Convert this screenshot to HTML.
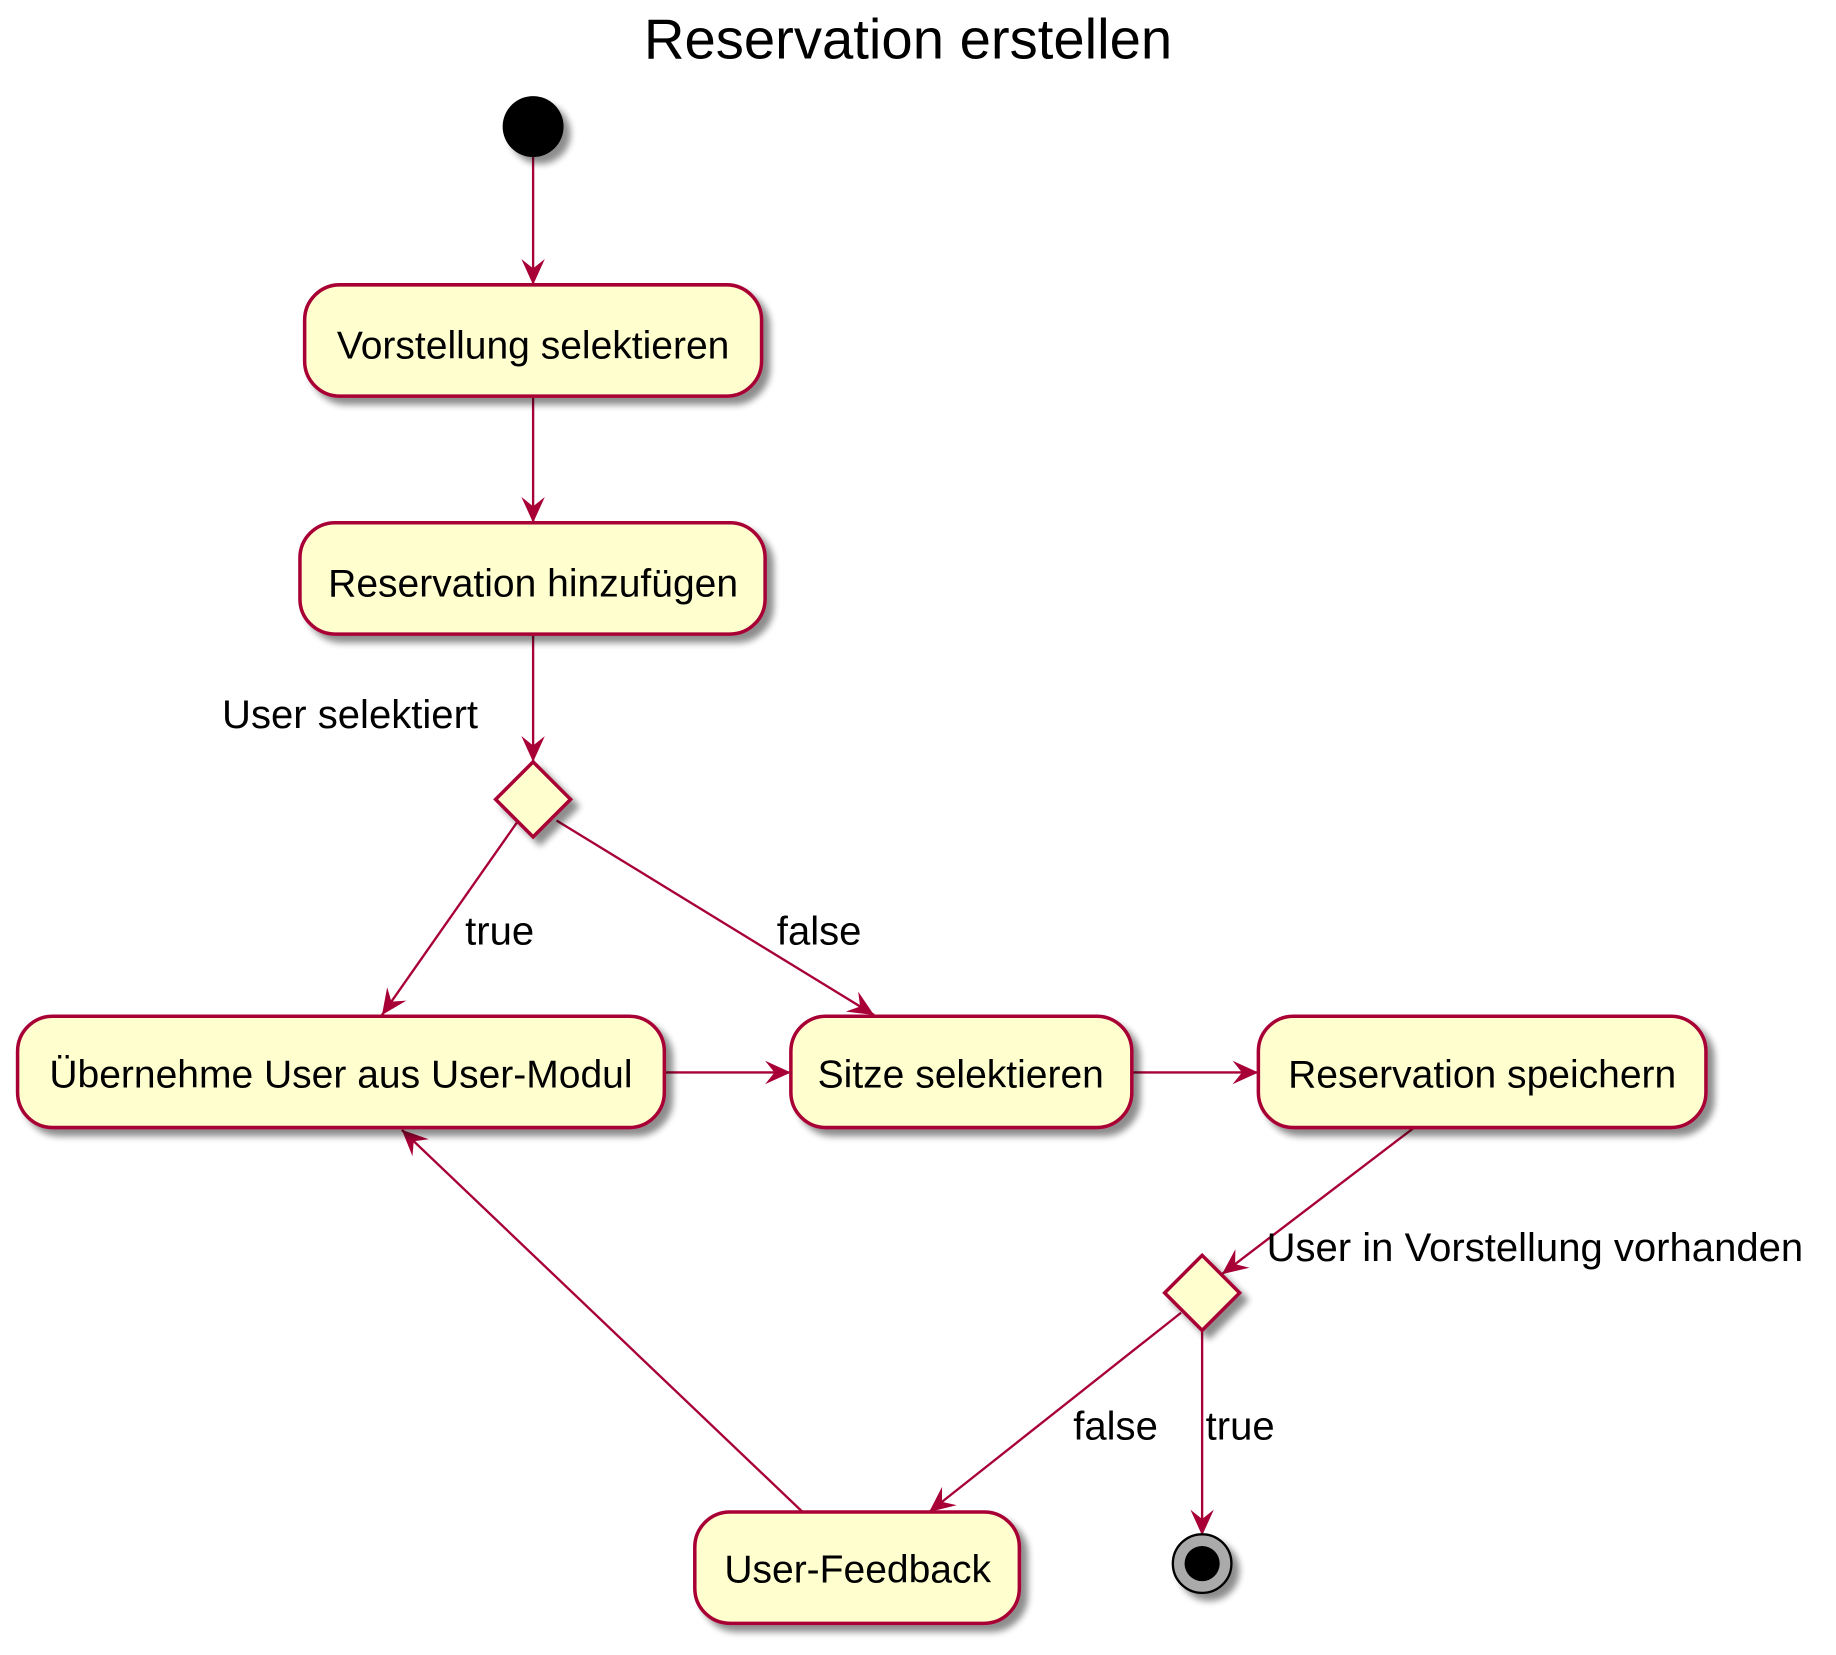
<!DOCTYPE html>
<html><head><meta charset="utf-8"><style>html,body{margin:0;padding:0;background:#fff}svg{display:block}</style></head>
<body>
<svg width="1836" height="1655" viewBox="0 0 1567 1412" preserveAspectRatio="none" xmlns="http://www.w3.org/2000/svg" font-family="Liberation Sans, Arial, sans-serif">
<defs>
<filter id="sh" x="-20%" y="-20%" width="150%" height="160%">
<feGaussianBlur in="SourceAlpha" stdDeviation="3"/>
<feOffset dx="6" dy="6" result="b"/>
<feComponentTransfer><feFuncA type="linear" slope="0.45"/></feComponentTransfer>
<feMerge><feMergeNode/><feMergeNode in="SourceGraphic"/></feMerge>
</filter>
<marker id="ar" viewBox="0 0 24 20" refX="22" refY="10" markerWidth="24" markerHeight="20" markerUnits="userSpaceOnUse" orient="auto">
<path d="M0,0 L22,10 L0,20 L8,10 Z" fill="#A80036"/>
</marker>
</defs>
<text x="775" y="50" font-size="48" text-anchor="middle" fill="#000">Reservation erstellen</text>
<g stroke="#A80036" stroke-width="2" fill="none">
<line x1="455" y1="134" x2="455" y2="243" marker-end="url(#ar)"/>
<line x1="455" y1="338" x2="455" y2="446" marker-end="url(#ar)"/>
<line x1="455" y1="541" x2="455" y2="650" marker-end="url(#ar)"/>
<line x1="441" y1="702" x2="326" y2="866" marker-end="url(#ar)"/>
<line x1="475" y1="700" x2="746" y2="866" marker-end="url(#ar)"/>
<line x1="567" y1="915" x2="675" y2="915" marker-end="url(#ar)"/>
<line x1="966" y1="915" x2="1074" y2="915" marker-end="url(#ar)"/>
<line x1="1207" y1="962" x2="1043" y2="1087" marker-end="url(#ar)"/>
<line x1="1008" y1="1120" x2="793" y2="1290" marker-end="url(#ar)"/>
<line x1="1026" y1="1135" x2="1026" y2="1310" marker-end="url(#ar)"/>
<line x1="685" y1="1290" x2="343" y2="964" marker-end="url(#ar)"/>
</g>
<circle cx="455" cy="108" r="26" fill="#000" filter="url(#sh)"/>
<g fill="#FEFECE" stroke="#A80036" stroke-width="3" filter="url(#sh)">
<rect x="260" y="243" width="390" height="95" rx="30"/>
<rect x="256" y="446" width="397" height="95" rx="30"/>
<rect x="15" y="867" width="552" height="95" rx="30"/>
<rect x="675" y="867" width="291" height="95" rx="30"/>
<rect x="1074" y="867" width="382" height="95" rx="30"/>
<rect x="593" y="1290" width="277" height="95" rx="30"/>
<polygon points="455,650 487,682 455,714 423,682"/>
<polygon points="1026,1071 1058,1103 1026,1135 994,1103"/>
</g>
<g filter="url(#sh)">
<circle cx="1026" cy="1334" r="25" fill="#aaa" stroke="#000" stroke-width="2"/>
</g>
<circle cx="1026" cy="1334" r="15" fill="#000"/>
<g font-size="33.3" fill="#000" text-anchor="middle">
<text x="455" y="306">Vorstellung selektieren</text>
<text x="455" y="509">Reservation hinzufügen</text>
<text x="291" y="928">Übernehme User aus User-Modul</text>
<text x="820" y="928">Sitze selektieren</text>
<text x="1265" y="928">Reservation speichern</text>
<text x="732" y="1350">User-Feedback</text>
</g>
<g font-size="34.2" fill="#000">
<text x="408" y="621" text-anchor="end">User selektiert</text>
<text x="397" y="806">true</text>
<text x="663" y="806">false</text>
<text x="1081" y="1076">User in Vorstellung vorhanden</text>
<text x="916" y="1228">false</text>
<text x="1029" y="1228">true</text>
</g>
</svg>
</body></html>
